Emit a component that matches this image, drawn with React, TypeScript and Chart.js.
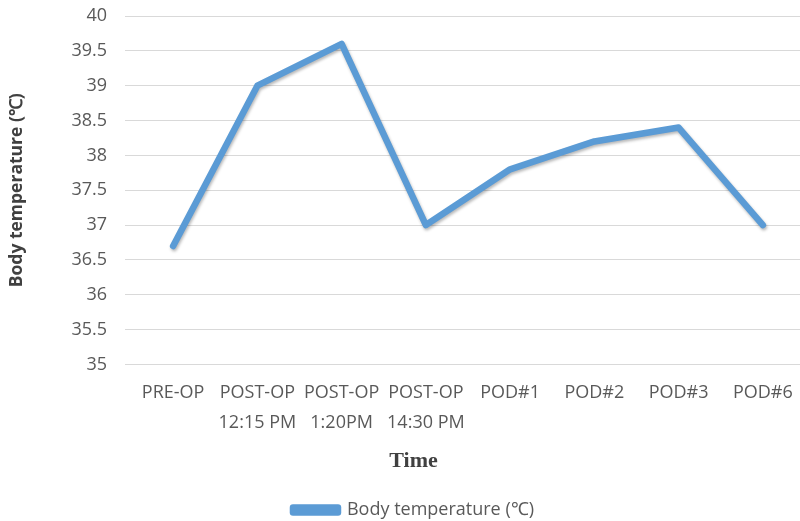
import React, { useEffect, useRef } from "react";
import { Chart, registerables } from "chart.js";

Chart.register(...registerables);

const categories: (string | string[])[] = [
  "PRE-OP",
  ["POST-OP", "12:15 PM"],
  ["POST-OP", "1:20PM"],
  ["POST-OP", "14:30 PM"],
  "POD#1",
  "POD#2",
  "POD#3",
  "POD#6",
];
const temperatures: number[] = [36.7, 39.0, 39.6, 37.0, 37.8, 38.2, 38.4, 37.0];
const seriesLabel = "Body temperature (\u2103)";
const yTitle = "Body temperature (\u2103)";
const xTitle = "Time";
const yMin = 35;
const yMax = 40;
const yStep = 0.5;

const BLUE = "#5B9BD5";
const GRID = "#d9d9d9";
const TEXT = "#595959";

const shadowPlugin = {
  id: "lineShadow",
  beforeDatasetDraw(chart: any) {
    const ctx = chart.ctx;
    ctx.save();
    ctx.shadowColor = "rgba(0,0,0,0.28)";
    ctx.shadowBlur = 3;
    ctx.shadowOffsetX = 1;
    ctx.shadowOffsetY = 2;
  },
  afterDatasetDraw(chart: any) {
    chart.ctx.restore();
  },
};

const PAD_LEFT = 22;

export default function App() {
  const ref = useRef<HTMLCanvasElement | null>(null);

  useEffect(() => {
    if (!ref.current) return;
    const chart = new Chart(ref.current, {
      type: "line",
      data: {
        labels: categories,
        datasets: [
          {
            label: seriesLabel,
            data: temperatures,
            borderColor: BLUE,
            backgroundColor: BLUE,
            borderWidth: 6.5,
            borderJoinStyle: "round",
            borderCapStyle: "round",
            pointRadius: 0,
            pointHoverRadius: 0,
            tension: 0,
            fill: false,
          },
        ],
      },
      plugins: [shadowPlugin],
      options: {
        responsive: false,
        animation: false,
        layout: { padding: { top: 16, right: 35, left: PAD_LEFT, bottom: 0 } },
        scales: {
          x: {
            offset: true,
            grid: { display: false, drawTicks: false },
            border: { display: false },
            ticks: {
              color: TEXT,
              font: { family: "'Open Sans'", size: 18, lineHeight: 1.67 },
              padding: 13,
              maxRotation: 0,
              autoSkip: false,
            },
          },
          y: {
            min: yMin,
            max: yMax,
            afterFit: (scale: any) => {
              scale.width = 131 - PAD_LEFT;
              scale.paddingTop = 4;
              scale.paddingBottom = 4;
            },
            grid: { color: GRID, lineWidth: 1, tickLength: 6, drawTicks: true },
            border: { display: false },
            ticks: {
              stepSize: yStep,
              color: TEXT,
              font: { family: "'Open Sans'", size: 18 },
              padding: 18,
              callback: (v: any) => String(Number(v)),
            },
            title: {
              display: true,
              text: yTitle,
              color: "#404040",
              font: { family: "'Open Sans'", size: 17.5, weight: "bold" },
              padding: { top: 7 - PAD_LEFT, bottom: 0 },
            },
          },
        },
        plugins: {
          tooltip: { enabled: false },
          title: {
            display: true,
            text: xTitle,
            position: "bottom",
            weight: 500,
            color: "#404040",
            font: { family: "'Liberation Serif'", size: 22, weight: "bold", lineHeight: 0.655 },
            padding: { top: 4, bottom: 30 },
          } as any,
          legend: {
            display: true,
            position: "bottom",
            labels: {
              color: TEXT,
              font: { family: "'Open Sans'", size: 18 },
              boxWidth: 45,
              boxHeight: 5,
              padding: 2,
            },
          },
        },
      },
    });
    return () => chart.destroy();
  }, []);

  return (
    <div
      style={{
        position: "fixed",
        left: 0,
        top: 0,
        width: 800,
        height: 521,
        overflow: "hidden",
        background: "#ffffff",
      }}
    >
      <canvas ref={ref} width={840} height={529} style={{ display: "block" }} />
    </div>
  );
}
